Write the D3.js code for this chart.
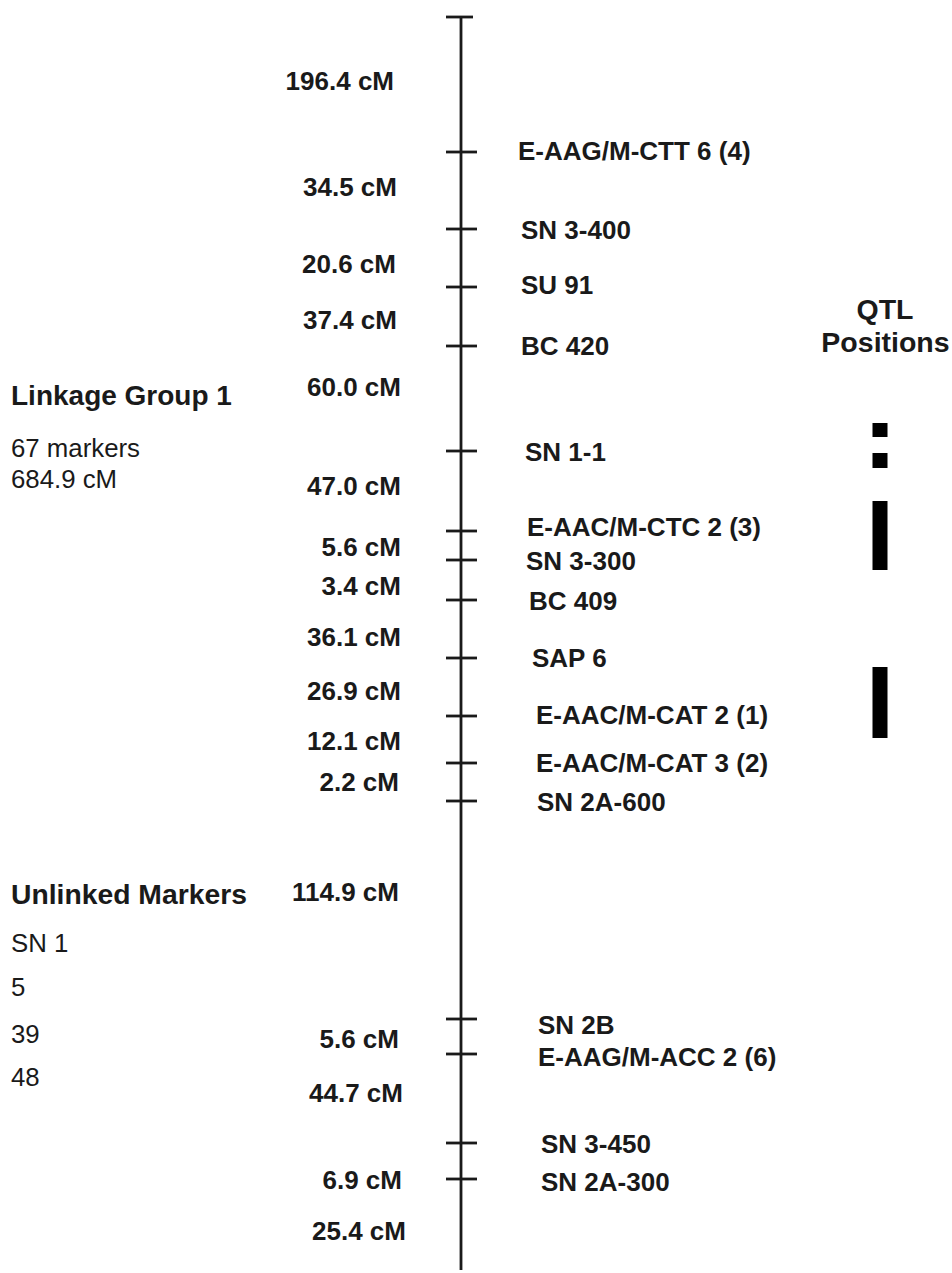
<!DOCTYPE html>
<html>
<head>
<meta charset="utf-8">
<script src="https://cdn.jsdelivr.net/npm/d3@7"></script>
<style>
  html, body { margin: 0; padding: 0; background: #fff; }
  svg { display: block; }
  text { font-family: "Liberation Sans", Arial, Helvetica, sans-serif; fill: #1a1a1a; }
</style>
</head>
<body>
<svg id="chart" width="952" height="1273"></svg>
<script>
// ---- data ----
const markerNames = ["E-AAG/M-CTT 6 (4)", "SN 3-400", "SU 91", "BC 420", "SN 1-1",
  "E-AAC/M-CTC 2 (3)", "SN 3-300", "BC 409", "SAP 6", "E-AAC/M-CAT 2 (1)",
  "E-AAC/M-CAT 3 (2)", "SN 2A-600", "SN 2B", "E-AAG/M-ACC 2 (6)", "SN 3-450", "SN 2A-300"];
// schematic drawing position of each marker along the map (display units from the top)
const markerPos = [135, 212, 270, 329, 434, 514, 543, 583, 641, 699, 746, 784, 1002, 1037, 1126, 1162];
const mapEnd = 1253;
// interval lengths (cM) between consecutive points, top to bottom
const intervalCM = [196.4, 34.5, 20.6, 37.4, 60.0, 47.0, 5.6, 3.4, 36.1, 26.9, 12.1, 2.2, 114.9, 5.6, 44.7, 6.9, 25.4];
// QTL bars in the same display units
const qtlStart = [406, 436, 484, 650];
const qtlEnd   = [420, 451, 553, 721];
const groupTitle = "Linkage Group 1";
const groupInfo = ["67 markers", "684.9 cM"];
const unlinkedTitle = "Unlinked Markers";
const unlinked = ["SN 1", "5", "39", "48"];

// ---- layout (label nudges, not data) ----
const labelDx = [57, 60, 60, 60, 64, 66, 65, 68, 71, 75, 75, 76, 77, 77, 80, 80];
const labelDy = [-1.5, 1, -2, 0, 1, -4, 0.5, 1, 0, -1, 0, 1, 5.5, 3, 1, 2.5];
const distRight = [394, 397, 396, 397, 401, 401, 401, 401, 401, 401, 401, 399, 399, 399, 403, 402, 406];
const distDy = [-4, -3.5, 5.5, 3.5, -11.5, -5, 1.5, 5.5, 8, 4, 1.5, 0, -18.5, 2, -5.5, 18.5, 6];

const svg = d3.select("#chart");
const axisX = 461;
const y = d3.scaleLinear().domain([0, mapEnd]).range([17, 1270]);
const ink = "#1a1a1a";

// main chromosome line
svg.append("line")
  .attr("x1", axisX).attr("x2", axisX)
  .attr("y1", y(0)).attr("y2", y(mapEnd))
  .attr("stroke", ink).attr("stroke-width", 2.8);

// top end bar
svg.append("line")
  .attr("x1", axisX - 15).attr("x2", axisX + 12)
  .attr("y1", y(0)).attr("y2", y(0))
  .attr("stroke", ink).attr("stroke-width", 2.8);

// marker ticks
svg.selectAll("line.tick").data(markerPos).join("line")
  .attr("class", "tick")
  .attr("x1", axisX - 15).attr("x2", axisX + 16)
  .attr("y1", d => y(d)).attr("y2", d => y(d))
  .attr("stroke", ink).attr("stroke-width", 2.8);

const F = 26;       // bold label font size
const FR = 25.8;    // regular text size
const capOff = 0.358 * F;

// marker labels
svg.selectAll("text.marker").data(markerNames).join("text")
  .attr("class", "marker")
  .attr("x", (d, i) => axisX + labelDx[i])
  .attr("y", (d, i) => y(markerPos[i]) + labelDy[i] + capOff)
  .attr("font-size", F).attr("font-weight", "bold")
  .text(d => d);

// interval distance labels
const bounds = [0, ...markerPos, mapEnd];
svg.selectAll("text.dist").data(intervalCM).join("text")
  .attr("class", "dist")
  .attr("x", (d, i) => distRight[i])
  .attr("y", (d, i) => (y(bounds[i]) + y(bounds[i + 1])) / 2 + distDy[i] + capOff)
  .attr("text-anchor", "end")
  .attr("font-size", F).attr("font-weight", "bold")
  .text(d => d3.format(".1f")(d) + " cM");

// QTL bars
const qtlX = 880;
svg.selectAll("rect.qtl").data(qtlStart).join("rect")
  .attr("class", "qtl")
  .attr("x", qtlX - 7.5).attr("width", 15)
  .attr("y", d => y(d))
  .attr("height", (d, i) => y(qtlEnd[i]) - y(d))
  .attr("fill", "#000");

const T = 28.5;
svg.append("text").attr("x", 885).attr("y", 319).attr("text-anchor", "middle")
  .attr("font-size", T).attr("font-weight", "bold").text("QTL");
svg.append("text").attr("x", 885.5).attr("y", 352).attr("text-anchor", "middle")
  .attr("font-size", T).attr("font-weight", "bold").text("Positions");

// left side texts
const leftX = 11;
svg.append("text").attr("x", leftX).attr("y", 405)
  .attr("font-size", 28).attr("font-weight", "bold").text(groupTitle);
svg.selectAll("text.info").data(groupInfo).join("text")
  .attr("class", "info")
  .attr("x", leftX).attr("y", (d, i) => [457, 488][i])
  .attr("font-size", FR).text(d => d);

svg.append("text").attr("x", leftX).attr("y", 904)
  .attr("font-size", 28.3).attr("font-weight", "bold").text(unlinkedTitle);
svg.selectAll("text.unl").data(unlinked).join("text")
  .attr("class", "unl")
  .attr("x", leftX).attr("y", (d, i) => [952, 996, 1043, 1086][i])
  .attr("font-size", FR).text(d => d);
</script>
</body>
</html>
